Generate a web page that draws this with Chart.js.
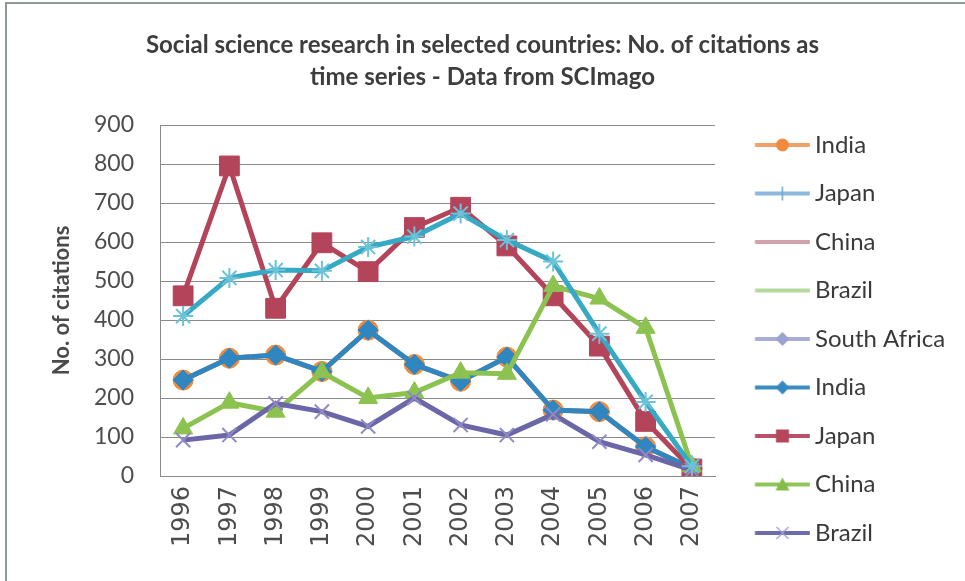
<!DOCTYPE html>
<html>
<head>
<meta charset="utf-8">
<title>Social science research - citations</title>
<script src="https://cdn.jsdelivr.net/npm/chart.js"></script>
<style>
  html, body { margin: 0; padding: 0; background: #fff; }
  #wrap { width: 965px; height: 581px; }
</style>
</head>
<body>
<div id="wrap"><canvas id="chart" width="965" height="581"></canvas></div>
<script>
// values
const years = ['1996', '1997', '1998', '1999', '2000', '2001', '2002', '2003', '2004', '2005', '2006', '2007'];

const indiaCitations = [246, 302, 310, 268, 374, 286, 243, 305, 169, 165, 75, 20];
const japanStarLine = [410, 508, 528, 526, 587, 614, 673, 605, 550, 365, 190, 25];
const japanCitations = [462, 795, 430, 598, 524, 637, 689, 590, 462, 333, 140, 18];
const chinaCitations = [122, 188, 165, 266, 200, 214, 265, 262, 487, 455, 380, 25];
const brazilCitations = [92, 105, 186, 165, 127, 200, 131, 105, 158, 88, 54, 15];
// series listed in the legend but not visible in the plot
const chinaHidden = [];
const brazilHidden = [];
const southAfricaHidden = [];

const yTicks = [0, 100, 200, 300, 400, 500, 600, 700, 800, 900];

Chart.defaults.font.family = 'Lato, "Open Sans", sans-serif';
Chart.defaults.color = '#4a4a4a';

// little "line + marker" pictures for the legend, like Excel draws them
function legendIcon(lineColor, marker, markerColor) {
    const c = document.createElement('canvas');
    c.width = 78; c.height = 20;
    const g = c.getContext('2d');
    g.strokeStyle = lineColor; g.lineWidth = 4;
    g.beginPath(); g.moveTo(22.75, 10); g.lineTo(77.75, 10); g.stroke();
    const x = 50.25, y = 10;
    g.fillStyle = markerColor; g.strokeStyle = markerColor;
    if (marker === 'circle') {
        g.beginPath(); g.arc(x, y, 6.5, 0, Math.PI * 2); g.fill();
    } else if (marker === 'plus') {
        g.lineWidth = 1.5;
        g.beginPath(); g.moveTo(x, y - 7); g.lineTo(x, y + 7); g.stroke();
    } else if (marker === 'diamond') {
        g.beginPath(); g.moveTo(x, y - 7); g.lineTo(x + 7, y); g.lineTo(x, y + 7); g.lineTo(x - 7, y); g.closePath(); g.fill();
    } else if (marker === 'square') {
        g.fillRect(x - 6.5, y - 6.5, 13, 13);
    } else if (marker === 'triangle') {
        g.beginPath(); g.moveTo(x, y - 7); g.lineTo(x + 7, y + 6); g.lineTo(x - 7, y + 6); g.closePath(); g.fill();
    } else if (marker === 'cross') {
        g.lineWidth = 1.2;
        g.beginPath(); g.moveTo(x - 6, y - 6); g.lineTo(x + 6, y + 6); g.moveTo(x + 6, y - 6); g.lineTo(x - 6, y + 6); g.stroke();
    }
    return c;
}

const icons = [
    legendIcon('#f2a06a', 'circle', '#f08a3c'),
    legendIcon('#8db8dc', 'plus', '#6fa6d4'),
    legendIcon('#cfa2ad', null, null),
    legendIcon('#b5d99c', null, null),
    legendIcon('#a9aed6', 'diamond', '#9aa2d0'),
    legendIcon('#3a8cc2', 'diamond', '#3488c0'),
    legendIcon('#b9506a', 'square', '#b6475b'),
    legendIcon('#8fc45a', 'triangle', '#83bd48'),
    legendIcon('#6e6aab', 'cross', '#a19dd0')
];

function series(label, data, color, style, radius, extra) {
    return Object.assign({
        label: label,
        data: data,
        borderColor: color,
        backgroundColor: color,
        borderWidth: 5,
        tension: 0,
        pointStyle: style,
        pointRadius: radius,
        pointBackgroundColor: color,
        pointBorderColor: color,
        pointBorderWidth: 1
    }, extra || {});
}

const datasets = [
    series('India', indiaCitations, '#f08a3c', 'circle', 10, { order: 9 }),
    series('Japan', japanStarLine, '#36a9c4', 'star', 10, { order: 1, pointBorderColor: '#6cc3d8', pointBorderWidth: 2 }),
    series('China', chinaHidden, '#c9909e', false, 0, { order: 8 }),
    series('Brazil', brazilHidden, '#a8d48c', false, 0, { order: 8 }),
    series('South Africa', southAfricaHidden, '#9aa2d0', 'rectRot', 10, { order: 8 }),
    series('India', indiaCitations, '#2f86c0', 'rectRot', 10, { order: 5 }),
    series('Japan', japanCitations, '#b4445a', 'rect', 14, { order: 4 }),
    series('China', chinaCitations, '#8cc24f', 'triangle', 11, { order: 3 }),
    series('Brazil', brazilCitations, '#6a66a8', 'crossRot', 10, { order: 2, pointBorderColor: '#8f8ac4', pointBorderWidth: 2 })
];

const framePlugin = {
    id: 'frame',
    afterInit(chart) {
        // keep the legend column at a fixed width like the original
        const lg = chart.legend;
        const fit = lg.fit;
        lg.fit = function () { fit.call(this); this.width = 250; };
    },
    beforeDraw(chart) {
        const ctx = chart.ctx;
        ctx.save();
        ctx.fillStyle = '#fff';
        ctx.fillRect(0, 0, chart.width, chart.height);
        ctx.strokeStyle = '#8c9995';
        ctx.lineWidth = 2;
        ctx.beginPath();
        ctx.moveTo(6, chart.height);
        ctx.lineTo(6, 3);
        ctx.lineTo(chart.width, 3);
        ctx.stroke();
        ctx.restore();
    }
};

new Chart(document.getElementById('chart'), {
    type: 'line',
    data: { labels: years, datasets: datasets },
    options: {
        responsive: false,
        animation: false,
        devicePixelRatio: 1,
        layout: { padding: 0 },
        plugins: {
            title: {
                display: true,
                text: ['Social science research in selected countries: No. of citations as', 'time series - Data from SCImago'],
                color: '#3d3d3d',
                font: { size: 24, weight: 'bold', lineHeight: 32 / 24 },
                padding: { top: 29, bottom: 32 }
            },
            legend: {
                position: 'right',
                align: 'start',
                title: { display: true, text: '', font: { size: 12 }, padding: { top: 94.1, bottom: 0 } },
                labels: {
                    usePointStyle: true,
                    pointStyleWidth: 63.5,
                    padding: 24.5,
                    color: '#3a3a3a',
                    font: { size: 24 },
                    sort: (a, b) => a.datasetIndex - b.datasetIndex,
                    generateLabels: (chart) => {
                        const items = Chart.defaults.plugins.legend.labels.generateLabels(chart);
                        return items.map(item => {
                            item.pointStyle = icons[item.datasetIndex];
                            item.hidden = false;
                            return item;
                        });
                    }
                }
            },
            tooltip: { enabled: false }
        },
        scales: {
            x: {
                offset: true,
                grid: { display: false, drawTicks: false },
                border: { display: true, color: '#8a8a8a', width: 1 },
                ticks: {
                    minRotation: 90, maxRotation: 90,
                    padding: 10,
                    color: '#4d4d4d',
                    font: { family: '"DejaVu Sans", sans-serif', size: 24 }
                },
                afterFit: (scale) => { scale.height = 105; }
            },
            y: {
                min: 0, max: 900,
                afterBuildTicks: (scale) => { scale.ticks = yTicks.map(v => ({ value: v })); },
                grid: { color: '#8a8a8a', lineWidth: 1, drawTicks: false },
                border: { display: true, color: '#8a8a8a', width: 1 },
                ticks: { padding: 26, color: '#4d4d4d', font: { size: 23 } },
                title: {
                    display: true,
                    text: 'No. of citations',
                    color: '#4a4a4a',
                    font: { size: 22, weight: 'bold' },
                    padding: { top: 48.8, bottom: 0 }
                },
                afterFit: (scale) => { scale.width = 160; }
            }
        }
    },
    plugins: [framePlugin]
});
</script>
</body>
</html>
